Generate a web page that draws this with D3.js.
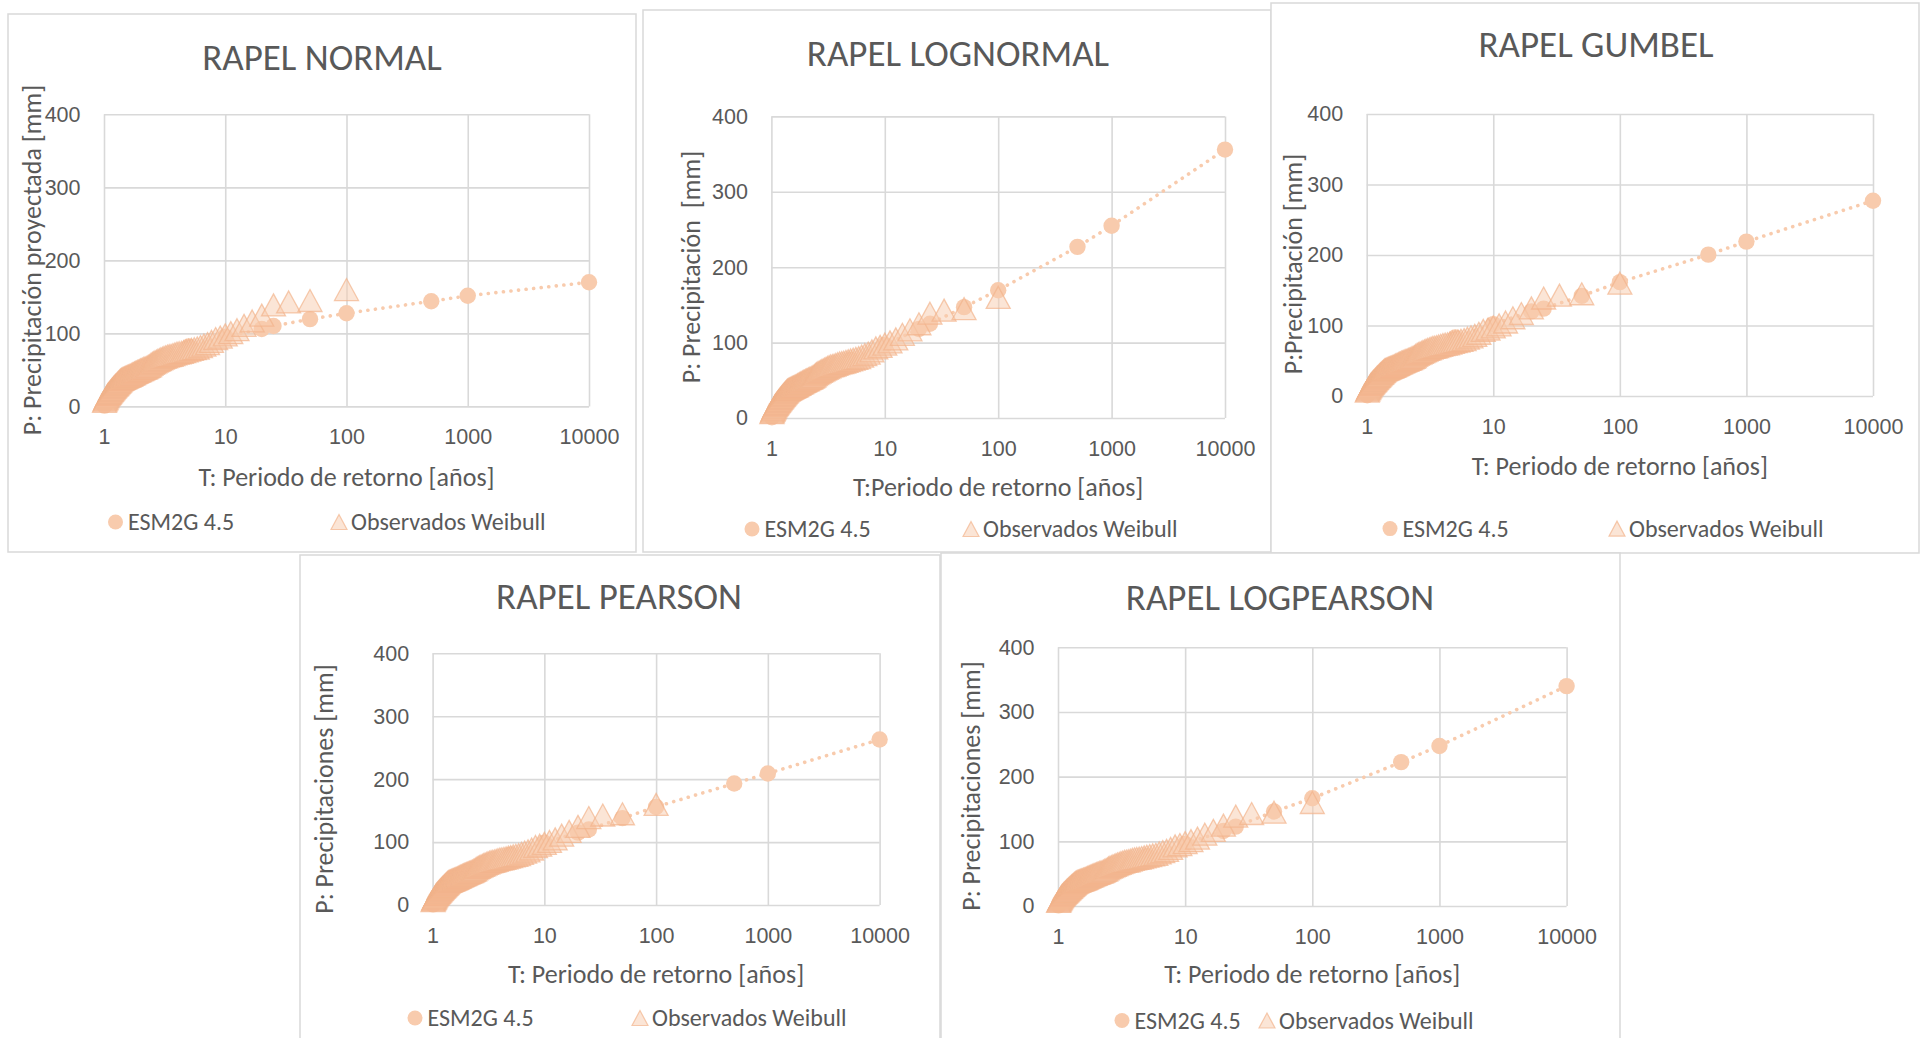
<!DOCTYPE html>
<html>
<head>
<meta charset="utf-8">
<script src="https://cdn.jsdelivr.net/npm/d3@7"></script>
<style>
  html, body { margin: 0; padding: 0; background: #fff; }
  svg { display: block; font-family: Carlito, Lato, "Open Sans", sans-serif; }
</style>
</head>
<body>
<svg id="fig" width="1929" height="1038"></svg>
<script>
// ---------- data ----------
const chartTitles = ["RAPEL NORMAL", "RAPEL LOGNORMAL", "RAPEL GUMBEL", "RAPEL PEARSON", "RAPEL LOGPEARSON"];
const yAxisTitles = [
  "P: Precipitación proyectada [mm]",
  "P: Precipitación  [mm]",
  "P:Precipitación [mm]",
  "P: Precipitaciones [mm]",
  "P: Precipitaciones [mm]"
];
const xAxisTitles = [
  "T: Periodo de retorno [años]",
  "T:Periodo de retorno [años]",
  "T: Periodo de retorno [años]",
  "T: Periodo de retorno [años]",
  "T: Periodo de retorno [años]"
];
const seriesNames = ["ESM2G 4.5", "Observados Weibull"];
const xTickValues = [1, 10, 100, 1000, 10000];
const yTickValues = [0, 100, 200, 300, 400];

// Observed annual maxima, sorted from largest to smallest (Weibull plotting positions)
const observed = [
  160, 145, 143, 139, 125, 117, 111, 105, 101, 98,
  95, 93, 89, 86, 84, 82, 80, 79, 78, 77,
  76, 75, 74, 73.5, 73, 72, 71, 70, 69.5, 69,
  68, 67, 66, 65, 64, 63, 62, 61, 60, 59,
  57.5, 56, 55, 54, 53, 52.5, 52, 51, 50.5, 50,
  49, 48.5, 48, 47, 46.5, 46, 45, 44.5, 44, 43,
  42.5, 42, 41.5, 41, 40.5, 40, 39.5, 39, 38.5, 38,
  37.5, 37, 36, 35, 34, 33, 32, 31, 30, 29,
  28, 27, 26, 25, 24, 23, 22, 21, 20, 19,
  18, 17, 16, 14.5, 13, 11.5, 10, 8.5, 7
];

// Projected series (ESM2G 4.5): return periods T [years]
const esmT = [1.01, 1.03, 1.05, 1.08, 1.11, 1.15, 1.2, 1.25, 1.3, 1.37, 1.45, 1.54, 1.64, 1.75, 1.89,
              2, 2.2, 2.4, 2.7, 3, 3.4, 4, 5, 10, 20, 25, 50, 100, 500, 1000, 10000];
// Projected precipitation [mm] for each fitted distribution
const esmNormal = [1, 5, 8, 12, 15, 18, 21, 24, 26, 29, 31, 33, 35, 37, 40,
                   42, 45, 48, 52, 56, 60, 65, 82, 95.5, 106, 110, 119.5, 127.5, 144, 151.5, 170];
const esmLognormal = [1, 5, 8, 12, 15, 18, 21, 24, 26, 29, 31, 33, 35, 37, 40,
                      42, 45, 48, 52, 56, 60, 65, 77, 97, 118, 125, 147, 169.5, 227, 255, 356];
const esmGumbel = [1, 5, 8, 12, 15, 18, 21, 24, 26, 29, 31, 33, 35, 37, 40,
                   42, 45, 48, 52, 56, 60, 65, 83, 102, 120, 124, 142, 161.5, 200.5, 219, 277];
const esmPearson = [1, 5, 8, 12, 15, 18, 21, 24, 26, 29, 31, 33, 35, 37, 40,
                    42, 45, 48, 52, 56, 60, 65, 80, 99, 115, 120, 138, 156, 193, 209, 263];
const esmLogPearson = [1, 5, 8, 12, 15, 18, 21, 24, 26, 29, 31, 33, 35, 37, 40,
                       42, 45, 48, 52, 56, 60, 65, 77, 96, 116, 122.8, 146, 166.5, 222.5, 247.5, 340];
const esmSeries = [esmNormal, esmLognormal, esmGumbel, esmPearson, esmLogPearson];

// ---------- layout of the five panels ----------
const layout = [
  { box: [8, 14, 628, 538],    plot: [104, 114.3, 589, 406.4],     title: [322, 70],   yTitle: [32, 260],   xTitleBase: 486, legendY: 522,    legendX: [115.5, 339] },
  { box: [643, 10, 628, 542],  plot: [771.4, 116.4, 1225, 418],    title: [958, 66],   yTitle: [691, 267],  xTitleBase: 496, legendY: 529,    legendX: [752, 971] },
  { box: [1271, 3, 648, 550],  plot: [1366.7, 114, 1873, 396],     title: [1596, 57],  yTitle: [1293, 264], xTitleBase: 475, legendY: 528.6,  legendX: [1390, 1617] },
  { box: [300, 555, 640, 500], plot: [432.6, 653.3, 879.6, 905],   title: [619, 609],  yTitle: [324, 789], xTitleBase: 983, legendY: 1018,   legendX: [415, 640] },
  { box: [941, 553, 679, 500], plot: [1058, 647.3, 1566.6, 906],   title: [1280, 610], yTitle: [971, 786], xTitleBase: 983, legendY: 1020.5, legendX: [1122, 1267] }
];

// ---------- styles ----------
const TEXT = "#595959";
const GRID = "#D9D9D9";
const CIRCLE = "#F8CBAD";
const TRI_FILL = "#F8CBAD";
const TRI_STROKE = "#F2B48B";

const svg = d3.select("#fig");

function trianglePath(w, h) {
  return `M0,${-h / 2}L${w / 2},${h / 2}L${-w / 2},${h / 2}Z`;
}

layout.forEach((L, i) => {
  const g = svg.append("g");
  const [bx, by, bw, bh] = L.box;
  g.append("rect").attr("x", bx).attr("y", by).attr("width", bw).attr("height", bh)
    .attr("fill", "#fff").attr("stroke", GRID).attr("stroke-width", 1.5);

  const [x0, yTop, x1, yBot] = L.plot;
  const x = d3.scaleLog().domain([1, 10000]).range([x0, x1]);
  const y = d3.scaleLinear().domain([0, 400]).range([yBot, yTop]);

  // gridlines + tick labels
  const yAxis = g.append("g").attr("transform", `translate(${x0},0)`)
    .call(d3.axisLeft(y).tickValues(yTickValues).tickSize(-(x1 - x0)).tickPadding(23.5).tickFormat(d3.format("d")));
  const xAxis = g.append("g").attr("transform", `translate(0,${yBot})`)
    .call(d3.axisBottom(x).tickValues(xTickValues).tickSize(-(yBot - yTop)).tickPadding(22.5).tickFormat(d3.format("d")));
  [yAxis, xAxis].forEach(a => {
    a.select(".domain").remove();
    a.selectAll("line").attr("stroke", GRID).attr("stroke-width", 1.6);
    a.selectAll("text").attr("fill", TEXT).style("font-size", "21.5px");
  });

  // titles
  g.append("text").attr("x", L.title[0]).attr("y", L.title[1]).attr("text-anchor", "middle")
    .attr("fill", TEXT).style("font-size", "37px").text(chartTitles[i]);
  g.append("text").attr("transform", `translate(${L.yTitle[0]},${L.yTitle[1]}) rotate(-90)`)
    .attr("text-anchor", "middle").attr("dy", "0.35em").attr("fill", TEXT)
    .style("font-size", "26px").style("white-space", "pre").text(yAxisTitles[i]);
  g.append("text").attr("x", (x0 + x1) / 2).attr("y", L.xTitleBase).attr("text-anchor", "middle")
    .attr("fill", TEXT).style("font-size", "26px").text(xAxisTitles[i]);

  // projected series: dotted connecting line + circles
  const esm = esmT.map((t, k) => ({ t, p: esmSeries[i][k] }));
  g.append("path").datum(esm)
    .attr("d", d3.line().x(d => x(d.t)).y(d => y(d.p)))
    .attr("fill", "none").attr("stroke", CIRCLE).attr("stroke-width", 3.6)
    .attr("stroke-linecap", "round").attr("stroke-dasharray", "0.1 7.5");
  g.selectAll("circle.esm").data(esm).join("circle").attr("class", "esm")
    .attr("cx", d => x(d.t)).attr("cy", d => y(d.p)).attr("r", 8.2).attr("fill", CIRCLE);

  // observed series: Weibull plotting position T = (n + 1) / rank
  const n = observed.length;
  const obs = observed.map((p, k) => ({ t: (n + 1) / (k + 1), p }));
  g.selectAll("path.obs").data(obs.slice().reverse()).join("path").attr("class", "obs")
    .attr("transform", d => `translate(${x(d.t)},${y(d.p)})`)
    .attr("d", trianglePath(24, 22))
    .attr("fill", TRI_FILL).attr("fill-opacity", 0.5)
    .attr("stroke", TRI_STROKE).attr("stroke-opacity", 0.7).attr("stroke-width", 1.3);

  // legend
  const ly = L.legendY;
  const [cx, tx] = L.legendX;
  g.append("circle").attr("cx", cx).attr("cy", ly).attr("r", 7.5).attr("fill", CIRCLE);
  g.append("text").attr("x", cx + 12.5).attr("y", ly).attr("dy", "0.35em").attr("fill", TEXT)
    .style("font-size", "24px").text(seriesNames[0]);
  g.append("path").attr("transform", `translate(${tx},${ly})`).attr("d", trianglePath(16, 15))
    .attr("fill", TRI_FILL).attr("fill-opacity", 0.5)
    .attr("stroke", TRI_STROKE).attr("stroke-opacity", 0.7).attr("stroke-width", 1.2);
  g.append("text").attr("x", tx + 12).attr("y", ly).attr("dy", "0.35em").attr("fill", TEXT)
    .style("font-size", "24px").text(seriesNames[1]);
});
</script>
</body>
</html>
